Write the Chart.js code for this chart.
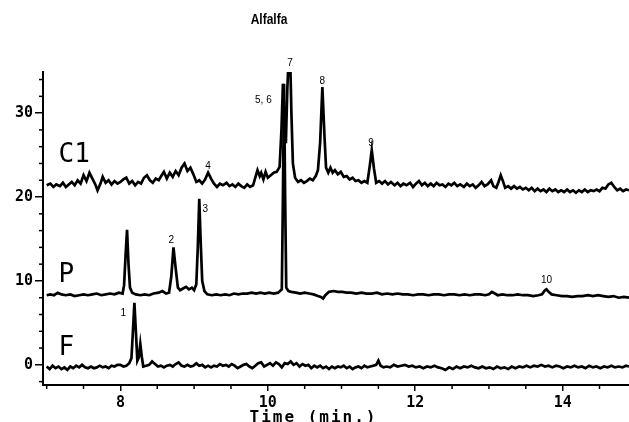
<!DOCTYPE html>
<html>
<head>
<meta charset="utf-8">
<title>Alfalfa</title>
<script src="https://cdn.jsdelivr.net/npm/chart.js@4/dist/chart.umd.min.js"></script>
<style>
  html, body { margin: 0; padding: 0; background: #fff; }
  canvas { display: block; }
</style>
</head>
<body>
<canvas id="myChart" width="629" height="422"></canvas>
<script>

    // chromatogram traces, [time (min), signal]
var c1Trace = [
    [7.00,21.4],[7.05,21.6],[7.09,21.2],[7.13,21.5],[7.18,21.3],[7.22,21.7],[7.26,21.2],[7.30,21.5],
    [7.34,21.8],[7.38,21.4],[7.42,22.0],[7.46,21.6],[7.50,22.6],[7.54,21.9],[7.58,22.9],[7.62,22.2],
    [7.66,21.5],[7.69,20.8],[7.73,21.6],[7.76,22.4],[7.80,21.7],[7.84,22.0],[7.88,21.5],[7.92,21.9],
    [7.96,21.6],[8.00,21.8],[8.04,22.1],[8.08,22.3],[8.12,21.6],[8.16,21.9],[8.20,21.4],[8.24,21.8],
    [8.28,21.6],[8.32,22.3],[8.36,22.6],[8.40,22.0],[8.44,21.7],[8.48,22.2],[8.52,22.0],[8.56,22.6],
    [8.59,23.0],[8.63,22.2],[8.67,22.9],[8.71,22.4],[8.75,23.1],[8.79,22.6],[8.83,23.5],[8.87,24.0],
    [8.91,23.1],[8.95,23.5],[8.99,22.7],[9.03,21.8],[9.07,22.0],[9.11,21.6],[9.15,22.1],[9.19,22.9],
    [9.23,22.2],[9.27,21.6],[9.31,21.2],[9.35,21.6],[9.39,21.4],[9.44,21.7],[9.48,21.3],[9.52,21.5],
    [9.56,21.2],[9.60,21.6],[9.64,21.3],[9.68,21.1],[9.72,21.5],[9.76,21.2],[9.80,21.4],[9.84,22.6],
    [9.86,23.2],[9.89,22.5],[9.91,22.9],[9.94,22.1],[9.97,23.0],[10.00,22.3],[10.04,22.6],[10.08,22.9],
    [10.12,23.0],[10.16,23.6],[10.185,28.0],[10.205,33.5],[10.225,30.0],[10.245,26.4],[10.265,33.0],[10.28,36.0],
    [10.305,36.0],[10.32,30.0],[10.34,24.0],[10.37,22.3],[10.41,21.8],[10.45,22.0],[10.49,21.7],[10.53,21.9],
    [10.57,22.2],[10.61,22.0],[10.65,22.5],[10.68,23.2],[10.71,26.5],[10.74,33.1],[10.77,27.0],[10.79,23.5],
    [10.82,22.9],[10.85,23.5],[10.88,22.9],[10.91,23.2],[10.95,22.7],[10.99,23.0],[11.03,22.4],[11.07,22.5],
    [11.11,22.1],[11.15,22.3],[11.19,21.9],[11.23,22.0],[11.27,21.7],[11.31,21.9],[11.35,21.7],[11.38,23.5],
    [11.41,25.6],[11.44,23.4],[11.47,21.7],[11.51,21.9],[11.55,21.6],[11.59,21.9],[11.63,21.5],[11.67,21.8],
    [11.72,21.4],[11.76,21.7],[11.80,21.3],[11.84,21.6],[11.88,21.4],[11.93,21.7],[11.97,21.2],[12.01,21.6],
    [12.05,21.9],[12.09,21.4],[12.13,21.7],[12.17,21.3],[12.21,21.6],[12.25,21.3],[12.29,21.7],[12.33,21.4],
    [12.37,21.5],[12.41,21.2],[12.45,21.6],[12.49,21.4],[12.53,21.7],[12.57,21.3],[12.61,21.5],[12.66,21.2],
    [12.70,21.6],[12.74,21.3],[12.78,21.5],[12.82,21.1],[12.86,21.4],[12.90,21.8],[12.94,21.3],[12.98,21.5],
    [13.03,22.0],[13.06,21.3],[13.10,21.1],[13.13,21.8],[13.16,22.6],[13.19,21.9],[13.22,21.1],[13.26,21.3],
    [13.30,21.0],[13.34,21.3],[13.38,21.0],[13.42,21.2],[13.46,20.9],[13.50,21.1],[13.54,20.8],[13.58,21.1],
    [13.62,20.7],[13.66,21.0],[13.70,20.7],[13.74,20.9],[13.78,20.6],[13.82,21.0],[13.86,20.7],[13.90,20.9],
    [13.94,20.6],[13.98,20.8],[14.02,20.6],[14.06,20.9],[14.10,20.6],[14.14,20.8],[14.18,20.5],[14.22,20.8],
    [14.26,20.6],[14.30,20.9],[14.34,20.6],[14.38,20.8],[14.42,20.7],[14.46,20.9],[14.50,20.7],[14.54,21.1],
    [14.58,21.0],[14.62,21.5],[14.66,21.7],[14.70,21.2],[14.74,20.8],[14.78,21.0],[14.82,20.7],[14.86,20.9],
    [14.90,20.8]
];

var pTrace = [
    [7.00,8.3],[7.05,8.4],[7.10,8.3],[7.15,8.6],[7.20,8.4],[7.26,8.3],[7.32,8.4],[7.38,8.2],
    [7.44,8.3],[7.50,8.4],[7.56,8.3],[7.62,8.4],[7.68,8.5],[7.74,8.3],[7.80,8.4],[7.86,8.5],
    [7.92,8.4],[7.98,8.6],[8.03,8.5],[8.05,9.5],[8.07,13.0],[8.09,16.1],[8.11,12.0],[8.13,9.2],
    [8.16,8.6],[8.21,8.4],[8.27,8.3],[8.33,8.4],[8.39,8.3],[8.45,8.5],[8.52,8.6],[8.57,8.8],
    [8.62,8.5],[8.66,8.6],[8.69,10.5],[8.72,14.0],[8.75,11.5],[8.78,9.2],[8.81,8.9],[8.85,9.1],
    [8.89,9.3],[8.93,9.0],[8.97,9.2],[9.00,8.9],[9.03,9.6],[9.05,14.0],[9.07,19.8],[9.09,14.5],
    [9.11,10.0],[9.14,8.8],[9.18,8.4],[9.24,8.3],[9.30,8.4],[9.36,8.3],[9.42,8.4],[9.48,8.3],
    [9.54,8.5],[9.60,8.4],[9.66,8.5],[9.72,8.5],[9.78,8.6],[9.84,8.5],[9.90,8.6],[9.96,8.5],
    [10.02,8.6],[10.08,8.5],[10.14,8.6],[10.19,9.0],[10.205,20.0],[10.22,33.5],[10.235,20.0],[10.25,9.2],
    [10.28,8.8],[10.32,8.7],[10.38,8.6],[10.44,8.5],[10.50,8.6],[10.56,8.5],[10.62,8.4],[10.68,8.2],
    [10.72,8.1],[10.75,7.9],[10.78,8.3],[10.83,8.7],[10.89,8.8],[10.95,8.7],[11.01,8.7],[11.07,8.6],
    [11.13,8.6],[11.20,8.5],[11.27,8.6],[11.34,8.5],[11.41,8.5],[11.48,8.6],[11.55,8.4],[11.62,8.5],
    [11.69,8.4],[11.76,8.5],[11.83,8.4],[11.90,8.4],[11.97,8.3],[12.04,8.4],[12.11,8.4],[12.18,8.3],
    [12.25,8.4],[12.32,8.4],[12.39,8.3],[12.46,8.4],[12.53,8.4],[12.60,8.3],[12.67,8.4],[12.74,8.3],
    [12.81,8.4],[12.88,8.4],[12.95,8.3],[13.00,8.4],[13.04,8.7],[13.08,8.5],[13.12,8.3],[13.18,8.4],
    [13.25,8.3],[13.32,8.3],[13.39,8.4],[13.46,8.3],[13.53,8.3],[13.60,8.2],[13.67,8.3],[13.72,8.4],
    [13.76,8.9],[13.78,9.0],[13.81,8.7],[13.85,8.4],[13.92,8.3],[13.99,8.2],[14.06,8.2],[14.13,8.1],
    [14.20,8.2],[14.27,8.2],[14.34,8.3],[14.41,8.2],[14.48,8.3],[14.55,8.2],[14.62,8.1],[14.69,8.2],
    [14.76,8.0],[14.83,8.1],[14.90,8.0]
];

var fTrace = [
    [7.00,-0.2],[7.04,-0.5],[7.08,-0.1],[7.12,-0.4],[7.16,-0.2],[7.20,-0.5],[7.24,-0.3],[7.28,-0.6],
    [7.32,-0.2],[7.36,-0.4],[7.40,-0.1],[7.44,-0.3],[7.48,0.0],[7.52,-0.3],[7.56,-0.4],[7.60,-0.2],
    [7.64,-0.4],[7.68,-0.3],[7.72,-0.1],[7.76,-0.3],[7.80,-0.2],[7.84,-0.4],[7.88,-0.1],[7.92,-0.2],
    [7.96,0.0],[8.00,0.0],[8.04,-0.2],[8.08,-0.1],[8.12,0.2],[8.15,0.8],[8.17,4.0],[8.19,7.4],
    [8.21,4.0],[8.23,0.5],[8.25,0.9],[8.27,2.5],[8.29,1.0],[8.31,-0.2],[8.35,-0.1],[8.39,0.0],
    [8.43,0.4],[8.47,0.1],[8.51,-0.2],[8.55,-0.1],[8.59,-0.3],[8.63,-0.1],[8.67,0.0],[8.71,-0.2],
    [8.75,0.1],[8.79,0.3],[8.83,-0.1],[8.87,-0.2],[8.91,0.0],[8.95,-0.2],[8.99,-0.1],[9.03,0.2],
    [9.07,-0.1],[9.11,0.0],[9.15,-0.3],[9.19,-0.1],[9.23,-0.3],[9.27,-0.1],[9.31,-0.2],[9.35,0.1],
    [9.39,-0.1],[9.43,0.0],[9.47,-0.2],[9.51,0.1],[9.55,-0.1],[9.59,-0.4],[9.63,-0.2],[9.67,0.0],
    [9.71,0.1],[9.75,-0.2],[9.79,-0.4],[9.83,-0.1],[9.87,0.2],[9.91,0.3],[9.95,-0.2],[9.99,0.0],
    [10.03,0.2],[10.07,-0.1],[10.11,0.3],[10.15,0.1],[10.19,-0.3],[10.23,0.2],[10.27,0.1],[10.31,0.4],
    [10.35,0.0],[10.39,0.2],[10.43,-0.2],[10.47,0.1],[10.51,-0.1],[10.55,0.0],[10.59,-0.4],[10.63,-0.1],
    [10.67,-0.3],[10.71,-0.1],[10.75,-0.4],[10.79,-0.2],[10.83,-0.5],[10.87,-0.2],[10.91,-0.4],[10.95,-0.2],
    [10.99,-0.3],[11.03,-0.1],[11.07,-0.4],[11.11,-0.2],[11.15,-0.5],[11.19,-0.3],[11.23,-0.2],[11.27,-0.4],
    [11.31,-0.1],[11.35,-0.3],[11.39,-0.2],[11.43,-0.1],[11.47,0.0],[11.50,0.5],[11.53,-0.1],[11.57,-0.3],
    [11.61,-0.2],[11.66,-0.3],[11.71,0.0],[11.76,-0.2],[11.81,-0.1],[11.86,0.0],[11.91,-0.2],[11.96,-0.1],
    [12.01,-0.3],[12.06,-0.2],[12.11,-0.4],[12.16,-0.2],[12.21,-0.3],[12.26,-0.1],[12.31,-0.3],[12.36,-0.4],
    [12.41,-0.6],[12.46,-0.3],[12.51,-0.5],[12.56,-0.2],[12.61,-0.4],[12.66,-0.2],[12.71,-0.3],[12.76,-0.1],
    [12.81,-0.3],[12.86,-0.4],[12.91,-0.2],[12.96,-0.4],[13.01,-0.3],[13.06,-0.5],[13.11,-0.2],[13.16,-0.4],
    [13.21,-0.3],[13.26,-0.5],[13.31,-0.2],[13.36,-0.4],[13.41,-0.2],[13.46,-0.3],[13.51,-0.1],[13.56,-0.3],
    [13.61,-0.1],[13.66,-0.2],[13.71,0.0],[13.76,-0.2],[13.81,-0.1],[13.86,-0.3],[13.91,-0.1],[13.96,-0.2],
    [14.01,-0.4],[14.06,-0.2],[14.11,-0.3],[14.16,-0.1],[14.21,-0.3],[14.26,-0.2],[14.31,-0.4],[14.36,-0.1],
    [14.41,-0.3],[14.46,-0.2],[14.51,-0.4],[14.56,-0.2],[14.61,-0.3],[14.66,-0.1],[14.71,-0.3],[14.76,-0.2],
    [14.81,-0.3],[14.86,-0.1],[14.90,-0.2]
];

    // axis ticks
var xTickValues = [8, 10, 12, 14];
var yTickValues = [0, 10, 20, 30];

    // trace names and where they sit (time, signal)
var traceNames = ['C1', 'P', 'F'];
var traceNameAt = [[7.16, 24.2], [7.16, 9.9], [7.16, 1.2]];

    // peak numbers and where they sit (time, signal)
var peakNames = ['1', '2', '3', '4', '5, 6', '7', '8', '9', '10'];
var peakNameAt = [[8.04, 6.2], [8.69, 14.9], [9.15, 18.5], [9.19, 23.7], [9.94, 31.5],
                  [10.30, 36.0], [10.74, 33.8], [11.40, 26.4], [13.78, 10.1]];

function toPoints(trace) {
    return trace.map(function(p) { return {x: p[0], y: p[1]}; });
}

    // extra drawing: title, minor ticks, trace names, peak numbers, axis title
var extras = {
    id: 'extras',
    afterDraw: function(chart) {
        var ctx = chart.ctx,
            xs = chart.scales.x,
            ys = chart.scales.y,
            area = chart.chartArea;

        ctx.save();
        ctx.strokeStyle = '#000';
        ctx.lineWidth = 1.5;

        for (var v = -2; v <= 34; v += 2) {
            if (v % 10 === 0) continue;
            var py = ys.getPixelForValue(v);
            ctx.beginPath();
            ctx.moveTo(area.left - 4, py);
            ctx.lineTo(area.left, py);
            ctx.stroke();
        }
        for (var t = 7; t <= 14.8; t += 0.5) {
            if (xTickValues.indexOf(t) >= 0) continue;
            var px = xs.getPixelForValue(t);
            ctx.beginPath();
            ctx.moveTo(px, area.bottom);
            ctx.lineTo(px, area.bottom + 4);
            ctx.stroke();
        }

        ctx.fillStyle = '#000';

        // condensed bold title
        ctx.save();
        ctx.translate(269, 20);
        ctx.scale(0.8, 1);
        ctx.textAlign = 'center';
        ctx.textBaseline = 'middle';
        ctx.font = 'bold 15px "Liberation Sans", Arial, sans-serif';
        ctx.fillText('Alfalfa', 0, 0);
        ctx.restore();

        ctx.textAlign = 'left';
        ctx.textBaseline = 'alphabetic';
        ctx.font = '26px "DejaVu Sans Mono", monospace';
        traceNames.forEach(function(name, i) {
            ctx.fillText(name, xs.getPixelForValue(traceNameAt[i][0]), ys.getPixelForValue(traceNameAt[i][1]));
        });

        ctx.textAlign = 'center';
        ctx.textBaseline = 'middle';
        ctx.font = '10px "Liberation Sans", Arial, sans-serif';
        peakNames.forEach(function(name, i) {
            ctx.fillText(name, xs.getPixelForValue(peakNameAt[i][0]), ys.getPixelForValue(peakNameAt[i][1]));
        });

        ctx.font = 'bold 16px "DejaVu Sans Mono", monospace';
        ctx.letterSpacing = '2px';
        ctx.fillText('Time (min.)', xs.getPixelForValue(10.62), 418);
        ctx.restore();
    }
};

var ctx = document.getElementById('myChart').getContext('2d');
var chart = new Chart(ctx, {
    type: 'line',
    data: {
        datasets: [
            {label: 'C1', data: toPoints(c1Trace)},
            {label: 'P', data: toPoints(pTrace)},
            {label: 'F', data: toPoints(fTrace)}
        ]
    },
    options: {
        responsive: false,
        animation: false,
        layout: {padding: {top: 72}},
        elements: {
            line: {borderColor: '#000', borderWidth: 2.7, tension: 0},
            point: {radius: 0}
        },
        plugins: {
            legend: {display: false},
            tooltip: {enabled: false},
            title: {display: false}
        },
        scales: {
            x: {
                type: 'linear',
                min: 6.95,
                max: 14.9,
                afterBuildTicks: function(scale) {
                    scale.ticks = xTickValues.map(function(v) { return {value: v}; });
                },
                afterFit: function(scale) { scale.height = 37; },
                border: {display: true, color: '#000', width: 2},
                grid: {display: true, drawOnChartArea: false, drawTicks: true, tickLength: 6, color: '#000', lineWidth: 1.5},
                ticks: {
                    color: '#000',
                    padding: 3,
                    maxRotation: 0,
                    font: {family: '"DejaVu Sans Mono", monospace', size: 15, weight: 'bold'}
                }
            },
            y: {
                type: 'linear',
                min: -2.4,
                max: 34.9,
                afterBuildTicks: function(scale) {
                    scale.ticks = yTickValues.map(function(v) { return {value: v}; });
                },
                afterFit: function(scale) { scale.width = 43; },
                border: {display: true, color: '#000', width: 2},
                grid: {display: true, drawOnChartArea: false, drawTicks: true, tickLength: 8, color: '#000', lineWidth: 1.5},
                ticks: {
                    color: '#000',
                    padding: 2,
                    font: {family: '"DejaVu Sans Mono", monospace', size: 15, weight: 'bold'}
                }
            }
        }
    },
    plugins: [extras]
});
</script>
</body>
</html>
